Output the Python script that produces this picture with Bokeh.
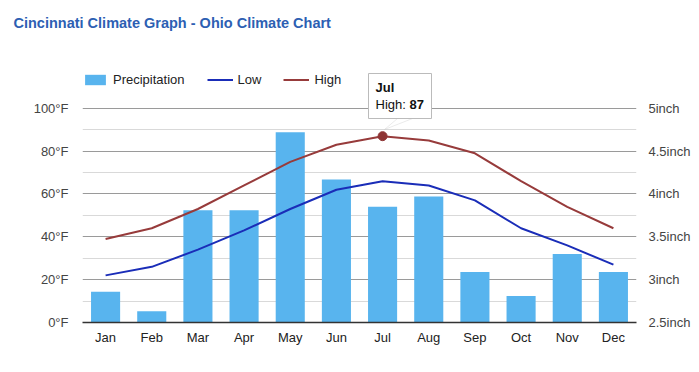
from bokeh.plotting import figure
from bokeh.models import (Range1d, LinearAxis, FixedTicker, Legend, LegendItem,
                          Label, BoxAnnotation, PolyAnnotation, ColumnDataSource,
                          PrintfTickFormatter, Title)
from bokeh.embed import file_html
from bokeh.resources import INLINE

months = ["Jan", "Feb", "Mar", "Apr", "May", "Jun", "Jul", "Aug", "Sep", "Oct", "Nov", "Dec"]
precip = [2.86, 2.63, 3.81, 3.81, 4.72, 4.17, 3.85, 3.97, 3.09, 2.81, 3.30, 3.09]
low = [22, 26, 34, 43, 53, 62, 66, 64, 57, 44, 36, 27]
high = [39, 44, 53, 64, 75, 83, 87, 85, 79, 66, 54, 44]
temp_ticks = [0, 20, 40, 60, 80, 100]
temp_minor = [10, 30, 50, 70, 90]
precip_ticks = [2.5, 3, 3.5, 4, 4.5, 5]
precip_labels = ["2.5inch", "3inch", "3.5inch", "4inch", "4.5inch", "5inch"]
title_text = "Cincinnati Climate Graph - Ohio Climate Chart"
tip_month = "Jul"

FONT = "Liberation Sans"
BAR = "#58b4ee"
LOW = "#1a2db8"
HIGH = "#973b3b"

# frame extended above 100°F so legend and tooltip sit inside it
T_MAX = 120.93
P_MIN = 2.5
P_MAX = P_MIN + T_MAX / 40.0

src = ColumnDataSource(dict(m=months, p=precip, lo=low, hi=high))

p = figure(width=699, height=372, x_range=months, y_range=Range1d(0, T_MAX),
           output_backend="svg", toolbar_location=None, title=None,
           min_border_left=82, min_border_right=63, min_border_top=62, min_border_bottom=50)
p.outline_line_color = None
p.extra_y_ranges = {"precip": Range1d(P_MIN, P_MAX)}

# spacer (nearest the frame), then the visible title above it
p.add_layout(Title(text=" ", text_font_size="1px", standoff=18), "above")
p.add_layout(Title(text=title_text, align="left", offset=-69, standoff=24,
                   text_font=FONT, text_font_size="14.5px", text_font_style="bold",
                   text_color="#2d5fb3"), "above")

bars = p.vbar(x="m", top="p", bottom=P_MIN, width=0.63, source=src, y_range_name="precip",
              fill_color=BAR, line_color=None)
lo_r = p.line(x="m", y="lo", source=src, line_color=LOW, line_width=2)
hi_r = p.line(x="m", y="hi", source=src, line_color=HIGH, line_width=2)

idx = months.index(tip_month)
p.scatter(x=[tip_month], y=[high[idx]], size=9, fill_color="#8e3434", line_color="#8e3434")

# axes
p.xaxis.axis_line_color = "#333333"
p.xaxis.axis_line_width = 1.5
p.xaxis.major_tick_line_color = None
p.xaxis.major_tick_out = 0
p.xaxis.minor_tick_line_color = None
p.xaxis.major_label_text_font = FONT
p.xaxis.major_label_text_font_size = "13px"
p.xaxis.major_label_text_color = "#222222"
p.xaxis.major_label_standoff = 7

p.yaxis.ticker = FixedTicker(ticks=temp_ticks, minor_ticks=temp_minor)
p.yaxis.formatter = PrintfTickFormatter(format="%d°F")
p.yaxis.axis_line_color = None
p.yaxis.major_tick_line_color = None
p.yaxis.major_tick_out = 0
p.yaxis.minor_tick_line_color = None
p.yaxis.minor_tick_out = 0
p.yaxis.major_label_text_font = FONT
p.yaxis.major_label_text_font_size = "13px"
p.yaxis.major_label_text_color = "#444444"
p.yaxis.major_label_standoff = 14

ra = LinearAxis(y_range_name="precip",
                ticker=FixedTicker(ticks=precip_ticks),
                major_label_overrides={t: l for t, l in zip(precip_ticks, precip_labels)})
ra.axis_line_color = None
ra.major_tick_line_color = None
ra.major_tick_out = 0
ra.minor_tick_line_color = None
ra.minor_tick_out = 0
ra.major_label_text_font = FONT
ra.major_label_text_font_size = "13px"
ra.major_label_text_color = "#444444"
ra.major_label_standoff = 12
p.add_layout(ra, "right")

p.xgrid.grid_line_color = None
p.ygrid.grid_line_color = "#9a9a9a"
p.ygrid.minor_grid_line_color = "#d9d9d9"

# legend
legend = Legend(items=[LegendItem(label="Precipitation", renderers=[bars]),
                       LegendItem(label="Low", renderers=[lo_r]),
                       LegendItem(label="High", renderers=[hi_r])],
                orientation="horizontal", location=(0, 235),
                glyph_width=26, glyph_height=13, label_standoff=5, spacing=22,
                padding=0, margin=0, border_line_color=None, background_fill_alpha=0,
                label_text_font=FONT, label_text_font_size="13px", label_text_color="#222222")
p.add_layout(legend, "center")

# tooltip
p.add_layout(PolyAnnotation(xs=[315, 330, 302], ys=[204, 204, 193], xs_units="screen", ys_units="screen",
                            fill_color="white", fill_alpha=1, line_color="#bbbbbb"))
p.add_layout(BoxAnnotation(left=286, right=349, top=249, bottom=204, left_units="screen",
                           right_units="screen", top_units="screen", bottom_units="screen",
                           fill_color="white", fill_alpha=1, line_color="#bbbbbb", line_alpha=1))
p.add_layout(Label(x=293, y=235, x_units="screen", y_units="screen", text=tip_month,
                   text_font=FONT, text_font_size="13px", text_font_style="bold",
                   text_color="#111111", text_baseline="middle"))
p.add_layout(Label(x=293, y=218, x_units="screen", y_units="screen", text="High: ",
                   text_font=FONT, text_font_size="13px", text_color="#111111", text_baseline="middle"))
p.add_layout(Label(x=327, y=218, x_units="screen", y_units="screen", text=str(high[idx]),
                   text_font=FONT, text_font_size="13px", text_font_style="bold",
                   text_color="#111111", text_baseline="middle"))

open("out.html", "w").write(file_html(p, INLINE))
